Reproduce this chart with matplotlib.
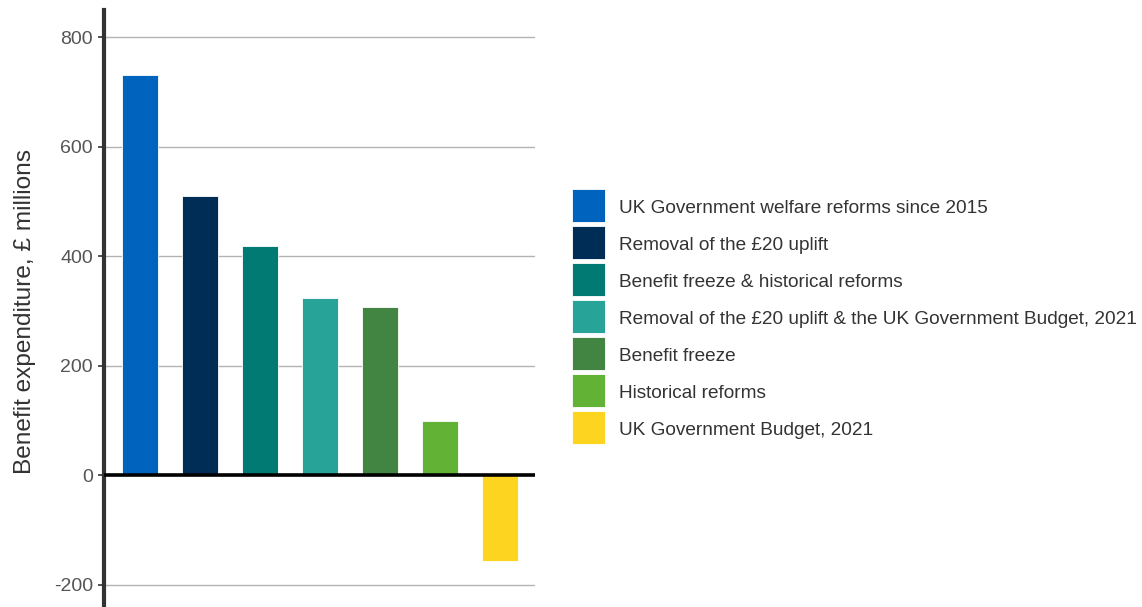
import matplotlib
matplotlib.use('Agg')
import matplotlib.pyplot as plt
import matplotlib.patches as mpatches

# Benefit expenditure impact by reform, £ millions
categories = [
    "UK Government welfare reforms since 2015",
    "Removal of the £20 uplift",
    "Benefit freeze & historical reforms",
    "Removal of the £20 uplift & the UK Government Budget, 2021",
    "Benefit freeze",
    "Historical reforms",
    "UK Government Budget, 2021",
]
values = [732, 510, 419, 323, 308, 100, -157]
colors = ["#0063BE", "#002D56", "#007A73", "#28A397", "#428543", "#62B236", "#FDD420"]
yticks = [-200, 0, 200, 400, 600, 800]

plt.rcParams['font.family'] = ['Liberation Sans', 'DejaVu Sans']

W, H = 1142, 607
fig = plt.figure(figsize=(W / 100, H / 100), dpi=100)
fig.patch.set_facecolor("white")
ax = fig.add_axes([0.0911, 0.0033, 0.3774, 0.9802])

xs = list(range(len(values)))
ax.bar(xs, values, width=0.6, color=colors, edgecolor="white", linewidth=0.6, zorder=3)

ax.set_xlim(-0.6, 6.58)
ax.set_ylim(-237, 850)
ax.set_yticks(yticks)
ax.set_yticklabels([str(v) for v in yticks], fontsize=14, color="#555555")
ax.set_xticks([])

ax.yaxis.grid(True, color="#b3b3b3", linewidth=1.0, zorder=0)
ax.axhline(0, color="black", linewidth=2.6, zorder=4)

for side in ["top", "right", "bottom"]:
    ax.spines[side].set_visible(False)
ax.spines["left"].set_color("#333333")
ax.spines["left"].set_linewidth(3)
ax.tick_params(axis="y", length=4.5, width=1.2, color="#333333", pad=3.5)

ax.set_ylabel("Benefit expenditure, £ millions", fontsize=17.6, color="#333333")
ax.yaxis.set_label_coords(-0.157, 0.494)

# legend: colour swatches with labels, laid out in pixel units
sw, step, top = 33, 37, 189
for i, (c, lab) in enumerate(zip(colors, categories)):
    y0 = top + i * step
    fig.add_artist(mpatches.Rectangle((572 / W, 1 - (y0 + sw) / H), sw / W, sw / H,
                                      transform=fig.transFigure, facecolor=c,
                                      edgecolor="white", linewidth=0.6))
    fig.text(619 / W, 1 - (y0 + sw / 2 + 3) / H, lab, fontsize=13.7, color="#333333",
             ha="left", va="center")

fig.savefig("out.png", dpi=100, facecolor="white")
